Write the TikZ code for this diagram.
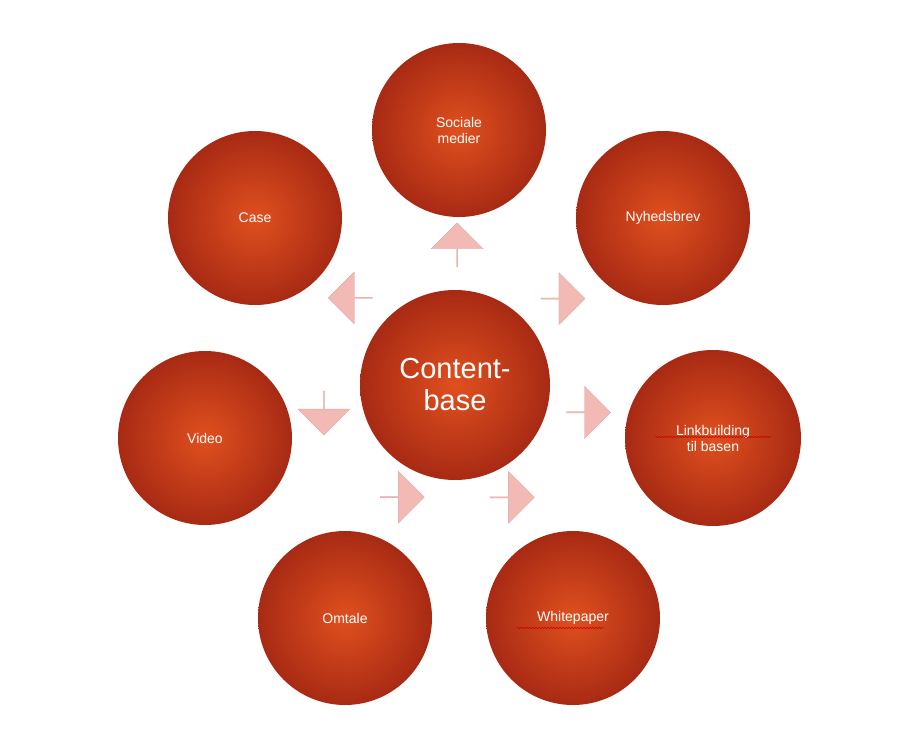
\documentclass[tikz,border=0pt]{standalone}
\usepackage{fontspec}
\setmainfont{Liberation Sans}
\usetikzlibrary{shapes.arrows,calc,decorations.pathmorphing}
\definecolor{redin}{HTML}{E0501E}
\definecolor{redout}{HTML}{A82A14}
\definecolor{arrowc}{HTML}{F2B9B5}
\tikzset{
 ball/.style={circle,minimum size=#1,inner sep=0pt,shading=radial,inner color=redin,outer color=redout,text=white,align=center,font=\fontsize{14}{16}\selectfont},
 blockarrow/.style={single arrow,fill=arrowc,draw=arrowc!90!black,line width=0.3pt,minimum height=44pt,minimum width=52pt,single arrow head extend=6pt,inner sep=0pt,shape border rotate=#1},
 squig/.style={red!80!black,line width=0.5pt,decorate,decoration={snake,amplitude=0.8pt,segment length=3pt}}
}
\begin{document}
\begin{tikzpicture}[x=1pt,y=-1pt]
\useasboundingbox (0,0) rectangle (900,744);
\node[ball=190pt,font=\fontsize{29}{32}\selectfont] (c) at (455,385) {Content-\\base};
\node[ball=174pt] (s) at (459,130) {Sociale\\medier};
\node[ball=174pt] (n) at (663,218) {Nyhedsbrev};
\node[ball=176pt] (l) at (713,438) {Linkbuilding\\til basen};
\node[ball=174pt] (w) at (573,618) {Whitepaper};
\node[ball=174pt] (o) at (345,618) {Omtale};
\node[ball=174pt] (v) at (205,438) {Video};
\node[ball=174pt] (k) at (255,218) {Case};
\node[blockarrow=89] (a1) at ($(c)!140pt!(s)$) {};
\node[blockarrow=38.8] (a2) at ($(c)!138pt!(n)$) {};
\node[blockarrow=-11.6] (a3) at ($(c)!136pt!(l)$) {};
\node[blockarrow=-63] (a4) at ($(c)!126pt!(w)$) {};
\node[blockarrow=-115] (a5) at ($(c)!124pt!(o)$) {};
\node[blockarrow=-168] (a6) at ($(c)!134pt!(v)$) {};
\node[blockarrow=140] (a7) at ($(c)!136pt!(k)$) {};
\coordinate (l1) at ($(l)+(-58,-1)$); \coordinate (l2) at ($(l)+(58,-1)$);
\draw[squig] (l1) -- (l2);
\coordinate (w1) at ($(w)+(-56,10)$); \coordinate (w2) at ($(w)+(30,10)$);
\draw[squig] (w1) -- (w2);
\end{tikzpicture}
\end{document}
